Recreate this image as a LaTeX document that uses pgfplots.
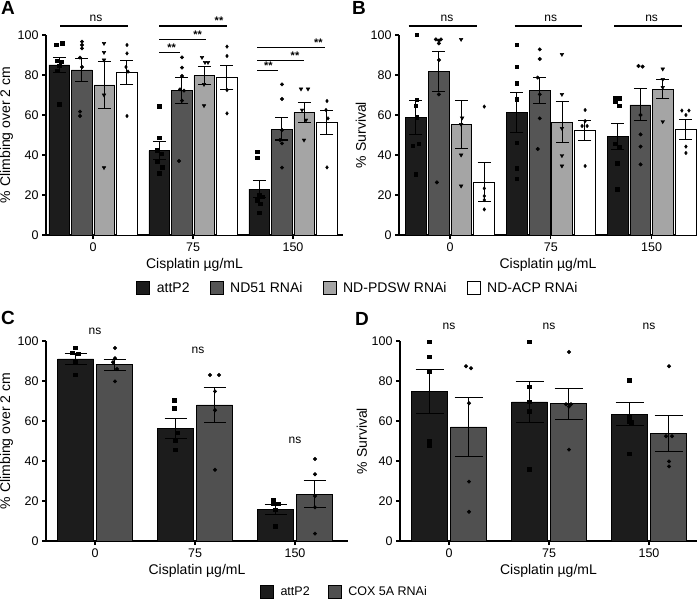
\documentclass[border=0pt]{standalone}
\usepackage{fontspec}
\setmainfont{Liberation Sans}
\usepackage{pgfplots}
\pgfplotsset{compat=1.18}
\definecolor{cA}{RGB}{28,28,28}
\definecolor{cB}{RGB}{85,85,85}
\definecolor{cC}{RGB}{165,165,165}
\definecolor{cD}{RGB}{255,255,255}
\definecolor{cX}{RGB}{80,80,80}
\pgfplotsset{
  panel/.style={
    scale only axis, height=200pt, axis lines=left,
    axis line style={-, line width=1.3pt},
    ymin=0, ymax=100, ytick={0,20,40,60,80,100},
    xtick={0,1,2}, xticklabels={0,75,150},
    tick align=outside, major tick length=4pt,
    tick style={line width=1.1pt, black},
    ticklabel style={font=\fontsize{12.5}{13}\selectfont},
    label style={font=\fontsize{14}{15}\selectfont},
    ylabel style={inner sep=1pt},
    xlabel={Cisplatin µg/mL},
    /pgf/number format/assume math mode=true,
    clip=false,
    legend style={draw=none, fill=none, legend columns=-1,
      /tikz/every odd column/.append style={column sep=5pt}},
  },
  sqleg/.style={legend image code/.code={\draw[##1] (0pt,-6.5pt) rectangle (13pt,6.5pt);}},
  barA/.style={ybar, bar width=0.207, draw=black, line width=0.6pt, forget plot,
    error bars/.cd, y dir=both, y explicit,
    error bar style={black, line width=1pt},
    error mark options={black, rotate=90, line width=1pt, mark size=6.5pt}},
  barC/.style={ybar, bar width=0.36, draw=black, line width=0.6pt, forget plot,
    error bars/.cd, y dir=both, y explicit,
    error bar style={black, line width=1pt},
    error mark options={black, rotate=90, line width=1pt, mark size=11pt}},
  barD/.style={ybar, bar width=0.36, draw=black, line width=0.6pt, forget plot,
    error bars/.cd, y dir=both, y explicit,
    error bar style={black, line width=1pt},
    error mark options={black, rotate=90, line width=1pt, mark size=14pt}},
  ptS/.style={only marks, mark=square*, mark size=1.7pt, black, forget plot},
  ptO/.style={only marks, mark=*, mark size=1.8pt, black, forget plot},
  ptT/.style={only marks, mark=triangle*, mark size=2.1pt, black, mark options={rotate=180}, forget plot},
  ptD/.style={only marks, mark=diamond*, mark size=1.8pt, black, forget plot},
}
\tikzset{
  sig/.style={line width=1.2pt, black},
  star/.style={anchor=south, inner sep=0pt, font=\bfseries\fontsize{11}{11}\selectfont},
  nsl/.style={anchor=base, inner sep=0pt, font=\fontsize{12}{12}\selectfont},
}
\begin{document}
\begin{tikzpicture}
\path[use as bounding box] (0,0) rectangle (700pt,606pt);
% ---------------- A ----------------
\begin{axis}[panel, at={(46pt,371pt)}, anchor=south west, width=297pt,
  xmin=-0.47, xmax=2.5, ylabel={\% Climbing over 2 cm},
  legend style={at={(1.05,-0.265)}, anchor=center, font=\fontsize{14}{15}\selectfont,
    /tikz/every even column/.append style={column sep=18pt}}]
\addplot[fill=cA, barA] coordinates {(-0.3375,85) +- (0,3.7) (0.6625,42.2) +- (0,4.4) (1.6625,23) +- (0,4.2)};
\addplot[fill=cB, barA] coordinates {(-0.1125,82.5) +- (0,5.6) (0.8875,72.2) +- (0,6.4) (1.8875,53) +- (0,5.5)};
\addplot[fill=cC, barA] coordinates {(0.1125,75) +- (0,11.6) (1.1125,79.7) +- (0,4.6) (2.1125,61.3) +- (0,5)};
\addplot[fill=cD, barA] coordinates {(0.3375,81.3) +- (0,6.1) (1.3375,78.8) +- (0,6) (2.3375,56.3) +- (0,5.8)};
\addplot[ptS] coordinates {(-0.37,95.2) (-0.31,95.8) (-0.36,87) (-0.32,86.5) (-0.34,84.5) (-0.36,82) (-0.34,65.5)
 (0.66,64.5) (0.66,48.7) (0.64,42.5) (0.68,40.8) (0.64,37) (0.69,34) (0.66,31)
 (1.64,41.7) (1.64,38.8) (1.66,20) (1.69,19.2) (1.64,17.5) (1.67,15.8) (1.66,11.3)};
\addplot[ptO] coordinates {(-0.11,96.7) (-0.11,95) (-0.11,93.3) (-0.13,88.7) (-0.11,84) (-0.13,61.7) (-0.13,59.5)
 (0.89,88.8) (0.89,83.7) (0.89,79.5) (0.87,72.8) (0.91,72.2) (0.89,67.2) (0.86,37)
 (1.89,75.3) (1.89,68) (1.89,52.5) (1.87,47.5) (1.89,45.8) (1.89,33.7)};
\addplot[ptT] coordinates {(0.11,95.8) (0.11,91.3) (0.11,87.5) (0.11,70) (0.11,33.7)
 (1.09,88.8) (1.12,86.3) (1.15,86.3) (1.11,75.3) (1.11,64.7)
 (2.08,73) (2.15,73) (2.09,62.5) (2.13,57.5) (2.11,47.5)};
\addplot[ptD] coordinates {(0.34,95) (0.34,90.8) (0.33,84) (0.35,81.7) (0.34,59.5)
 (1.34,94.2) (1.34,89.5) (1.34,72.5) (1.34,60.8)
 (2.34,67) (2.33,62.5) (2.35,58.3) (2.34,33.8)};
\addlegendimage{sqleg, fill=cA, draw=black, line width=0.6pt}\addlegendentry{attP2}
\addlegendimage{sqleg, fill=cB, draw=black, line width=0.6pt}\addlegendentry{ND51 RNAi}
\addlegendimage{sqleg, fill=cC, draw=black, line width=0.6pt}\addlegendentry{ND-PDSW RNAi}
\addlegendimage{sqleg, fill=cD, draw=black, line width=0.6pt}\addlegendentry{ND-ACP RNAi}
\draw[sig] (axis cs:-0.33,104.5) -- (axis cs:0.35,104.5);
\node[nsl] at (axis cs:0.03,106.8) {ns};
\draw[sig] (axis cs:0.663,91.3) -- (axis cs:0.87,91.3);
\draw[sig] (axis cs:0.663,97.8) -- (axis cs:1.13,97.8);
\draw[sig] (axis cs:0.663,104.5) -- (axis cs:1.343,104.5);
\node[star] at (axis cs:0.787,91.8) {**};
\node[star] at (axis cs:1.047,98.3) {**};
\node[star] at (axis cs:1.26,105) {**};
\draw[sig] (axis cs:1.643,82.2) -- (axis cs:1.853,82.2);
\draw[sig] (axis cs:1.643,87.2) -- (axis cs:2.113,87.2);
\draw[sig] (axis cs:1.643,93.7) -- (axis cs:2.32,93.7);
\node[star] at (axis cs:1.753,82.7) {**};
\node[star] at (axis cs:2.02,87.7) {**};
\node[star] at (axis cs:2.253,94.2) {**};
\end{axis}
% ---------------- B ----------------
\begin{axis}[panel, at={(399pt,371pt)}, anchor=south west, width=298pt,
  xmin=-0.506, xmax=2.45, ylabel={\% Survival}]
\addplot[fill=cA, barA] coordinates {(-0.3375,58.8) +- (0,8.5) (0.6625,61.2) +- (0,10) (1.6625,49.2) +- (0,6.5)};
\addplot[fill=cB, barA] coordinates {(-0.1125,81.7) +- (0,10.2) (0.8875,72.2) +- (0,6.5) (1.8875,65) +- (0,8)};
\addplot[fill=cC, barA] coordinates {(0.1125,55.2) +- (0,12.2) (1.1125,56.3) +- (0,10.3) (2.1125,72.8) +- (0,4.8)};
\addplot[fill=cD, barA] coordinates {(0.3375,26.5) +- (0,9.8) (1.3375,52.2) +- (0,4.8) (2.3375,52.8) +- (0,5)};
\addplot[ptS] coordinates {(-0.33,100) (-0.33,67.5) (-0.34,64.5) (-0.33,58.8) (-0.37,44.5) (-0.31,45.5) (-0.34,30.3)
 (0.66,95) (0.66,84.2) (0.66,75.8) (0.66,67.8) (0.66,46.2) (0.66,33.3) (0.66,28)
 (1.64,68.3) (1.68,68.3) (1.64,66.5) (1.68,64.5) (1.64,45.5) (1.68,44.2) (1.66,35.8) (1.66,22.8)};
\addplot[ptO] coordinates {(-0.14,97.8) (-0.09,97.8) (-0.11,97.2) (-0.11,95.8) (-0.11,87.5) (-0.11,70.3) (-0.13,26.3)
 (0.89,92.8) (0.89,88) (0.87,78.7) (0.89,70.3) (0.89,58.3) (0.87,43)
 (1.87,84.5) (1.91,84.2) (1.89,60) (1.89,50.3) (1.89,44.2) (1.89,35.3)};
\addplot[ptT] coordinates {(0.11,97.8) (0.12,58.5) (0.11,55.3) (0.11,40) (0.11,24.5)
 (1.11,90.3) (1.11,70.3) (1.11,53.3) (1.11,39.7) (1.11,34.5)
 (2.11,83) (2.11,77.8) (2.11,73.8) (2.11,56.7)};
\addplot[ptD] coordinates {(0.34,64.2) (0.34,23.3) (0.34,19.5) (0.34,17.5) (0.34,12.8)
 (1.34,62.5) (1.31,54.5) (1.36,54.5) (1.34,57) (1.34,34.5)
 (2.30,62.2) (2.37,62.2) (2.34,60) (2.34,44.2) (2.34,41)};
\draw[sig] (axis cs:-0.41,104.5) -- (axis cs:0.27,104.5);
\node[nsl] at (axis cs:-0.03,106.8) {ns};
\draw[sig] (axis cs:0.64,104.5) -- (axis cs:1.305,104.5);
\node[nsl] at (axis cs:1.0,106.8) {ns};
\draw[sig] (axis cs:1.63,104.5) -- (axis cs:2.30,104.5);
\node[nsl] at (axis cs:2.0,106.8) {ns};
\end{axis}
% ---------------- C ----------------
\begin{axis}[panel, at={(46pt,65pt)}, anchor=south west, width=302pt,
  xmin=-0.49, xmax=2.53, ylabel={\% Climbing over 2 cm},
  legend style={at={(0.988,-0.255)}, anchor=center, font=\fontsize{12.5}{13}\selectfont,
    /tikz/every even column/.append style={column sep=16pt}}]
\addplot[fill=cA, barC] coordinates {(-0.195,91.1) +- (0,2.8) (0.805,56.3) +- (0,4.9) (1.805,15.8) +- (0,2.5)};
\addplot[fill=cX, barC] coordinates {(0.195,88.2) +- (0,2.8) (1.195,68.1) +- (0,8.8) (2.195,23.5) +- (0,6.6)};
\addplot[ptS] coordinates {(-0.2,96.6) (-0.23,94.1) (-0.17,93.6) (-0.2,89.4) (-0.2,83.2)
 (0.79,70.4) (0.79,66.4) (0.82,54.1) (0.8,50.3) (0.8,45.7)
 (1.78,20.8) (1.78,18.8) (1.83,18.8) (1.8,15.8) (1.8,7.4)};
\addplot[ptO] coordinates {(0.2,96.5) (0.2,91.4) (0.18,89.4) (0.22,86) (0.2,79.8)
 (1.15,83) (1.24,83) (1.2,74.8) (1.2,65.4) (1.2,35.6)
 (2.2,41) (2.2,33.4) (2.2,22.5) (2.2,16.8) (2.2,3.7)};
\addlegendimage{sqleg, fill=cA, draw=black, line width=0.6pt}\addlegendentry{attP2}
\addlegendimage{sqleg, fill=cX, draw=black, line width=0.6pt}\addlegendentry{COX 5A RNAi}
\node[nsl] at (axis cs:0,103.1) {ns};
\node[nsl] at (axis cs:1.03,94) {ns};
\node[nsl] at (axis cs:2.0,49) {ns};
\end{axis}
% ---------------- D ----------------
\begin{axis}[panel, at={(400pt,65pt)}, anchor=south west, width=297pt,
  xmin=-0.49, xmax=2.48, ylabel={\% Survival}]
\addplot[fill=cA, barD] coordinates {(-0.195,74.8) +- (0,10.9) (0.805,69.6) +- (0,10.3) (1.805,63.5) +- (0,5.8)};
\addplot[fill=cX, barD] coordinates {(0.195,57.1) +- (0,14.8) (1.195,68.7) +- (0,7.8) (2.195,53.8) +- (0,8.8)};
\addplot[ptS] coordinates {(-0.2,99.8) (-0.2,92.3) (-0.2,84.7) (-0.2,49.9) (-0.2,47.7)
 (0.8,99.8) (0.8,77.3) (0.8,69.7) (0.8,65) (0.8,36)
 (1.8,80.5) (1.8,62.5) (1.8,60) (1.82,59.5) (1.8,43.7)};
\addplot[ptO] coordinates {(0.17,87.4) (0.22,86.4) (0.2,68.9) (0.2,29.7) (0.2,14.6)
 (1.2,94.5) (1.17,68.4) (1.22,68.4) (1.2,67.2) (1.2,45.7)
 (2.2,87.4) (2.17,52.4) (2.23,52.4) (2.2,39.8) (2.2,37.3)};
\node[nsl] at (axis cs:0,106) {ns};
\node[nsl] at (axis cs:1,106) {ns};
\node[nsl] at (axis cs:2,106) {ns};
\end{axis}
% panel letters
\node[anchor=north west, inner sep=0pt, font=\bfseries\fontsize{19}{19}\selectfont] at (1pt,605pt) {A};
\node[anchor=north west, inner sep=0pt, font=\bfseries\fontsize{19}{19}\selectfont] at (352pt,605pt) {B};
\node[anchor=north west, inner sep=0pt, font=\bfseries\fontsize{19}{19}\selectfont] at (1pt,295pt) {C};
\node[anchor=north west, inner sep=0pt, font=\bfseries\fontsize{19}{19}\selectfont] at (355pt,294pt) {D};
\end{tikzpicture}
\end{document}
